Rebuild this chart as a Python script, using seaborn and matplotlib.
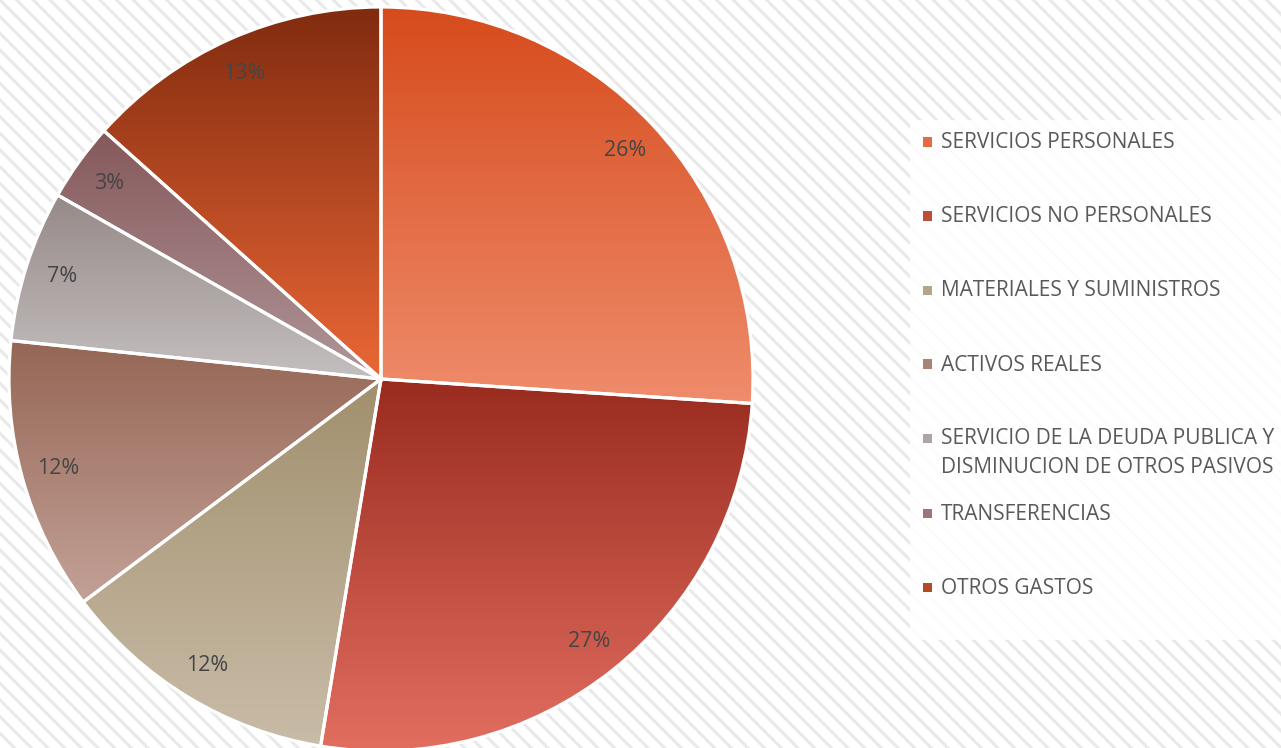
import numpy as np
import pandas as pd
import seaborn as sns
import matplotlib
matplotlib.use("Agg")
import matplotlib.pyplot as plt
from matplotlib.colors import to_rgb
from matplotlib.patches import Rectangle

# ---------------- data ----------------
categories = [
    "SERVICIOS PERSONALES",
    "SERVICIOS NO PERSONALES",
    "MATERIALES Y SUMINISTROS",
    "ACTIVOS REALES",
    "SERVICIO DE LA DEUDA PUBLICA Y DISMINUCION DE OTROS PASIVOS",
    "TRANSFERENCIAS",
    "OTROS GASTOS",
]
shares = [26.1, 26.6, 12.2, 11.9, 6.6, 3.4, 13.4]
legend_lines = [
    ["SERVICIOS PERSONALES"],
    ["SERVICIOS NO PERSONALES"],
    ["MATERIALES Y SUMINISTROS"],
    ["ACTIVOS REALES"],
    ["SERVICIO DE LA DEUDA PUBLICA Y", "DISMINUCION DE OTROS PASIVOS"],
    ["TRANSFERENCIAS"],
    ["OTROS GASTOS"],
]

# ---------------- style ----------------
top_colors = ["#D64B1C", "#992B1F", "#A18F6D", "#956655", "#968A88", "#86585B", "#812B0F"]
bottom_colors = ["#EF8C6C", "#E26E60", "#C9BCA8", "#C3A197", "#C4BFBF", "#B09698", "#EA6736"]
text_color = "#595959"

sns.set_theme(style="white")
plt.rcParams["font.family"] = ["Open Sans", "DejaVu Sans"]
plt.rcParams["hatch.linewidth"] = 2.2

W, H = 1281, 748
fig = plt.figure(figsize=(W / 100, H / 100), dpi=100)

# hatched background
bg = fig.add_axes([0, 0, 1, 1])
bg.set_axis_off()
bg.add_patch(Rectangle((0, 0), 1, 1, transform=bg.transAxes, facecolor="white",
                       edgecolor="#E9E9E9", hatch="\\\\", linewidth=0))

# pie axes: centre (381, 379) px, radius 372 px
cx, cy, r = 381, 379, 372
ax = fig.add_axes([(cx - r) / W, (H - cy - r) / H, 2 * r / W, 2 * r / H])
ax.set_axis_off()

df = pd.DataFrame({"category": categories, "share": shares})
wedges, texts, autotexts = ax.pie(
    df["share"], startangle=90, counterclock=False,
    autopct="%.0f%%", pctdistance=0.9,
    wedgeprops=dict(edgecolor="white", linewidth=2.3, facecolor="none"),
    textprops=dict(color="#454545", fontsize=15.5),
)

for i, w in enumerate(wedges):
    w.set_zorder(3)
    ext = w.get_path().get_extents()
    c0 = np.array(to_rgb(top_colors[i]))
    c1 = np.array(to_rgb(bottom_colors[i]))
    t = np.linspace(0, 1, 256)[:, None]
    grad = (c0[None, :] * (1 - t) + c1[None, :] * t)[:, None, :]
    img = ax.imshow(grad, extent=(ext.x0, ext.x1, ext.y0, ext.y1), origin="upper",
                    aspect="auto", interpolation="bilinear", zorder=2)
    img.set_clip_path(w)

for t_ in autotexts:
    t_.set_zorder(5)

ax.set_xlim(-1, 1)
ax.set_ylim(-1, 1)

# legend (drawn as figure text)
fig.patches.append(Rectangle((910 / W, 1 - 640 / H), (W - 910) / W, 520 / H,
                             transform=fig.transFigure, facecolor="white",
                             alpha=0.88, edgecolor="none", zorder=1))
row_y = [[142], [216], [290], [364], [438, 467], [513], [587]]
for i, lines in enumerate(legend_lines):
    ys = row_y[i]
    mid = tuple((np.array(to_rgb(top_colors[i])) + np.array(to_rgb(bottom_colors[i]))) / 2)
    fig.patches.append(Rectangle((923 / W, 1 - (ys[0] + 4.5) / H), 9 / W, 9 / H,
                                 transform=fig.transFigure, facecolor=mid,
                                 edgecolor="none", zorder=3))
    for line, y in zip(lines, ys):
        fig.text(941 / W, 1 - (y + 1) / H, line, ha="left", va="center",
                 color=text_color, fontsize=15, zorder=4)

fig.savefig("out.png", dpi=100)
